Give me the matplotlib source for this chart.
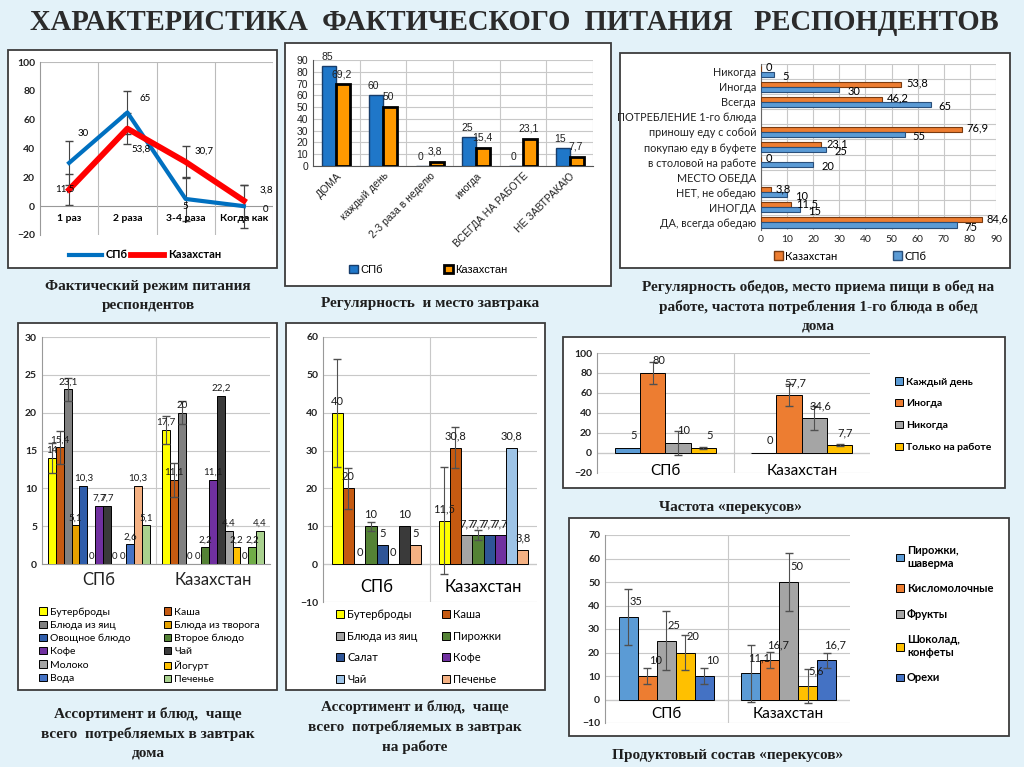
import numpy as np
import matplotlib.pyplot as plt
from matplotlib.patches import Rectangle, Patch
from matplotlib.lines import Line2D

W, H = 1024, 767
nan = np.nan

# --- chart 1: meal regime (line)
meal_cats = ['1 раз', '2 раза', '3-4 раза', 'Когда как']
meal_spb = [30, 65, 5, 0]
meal_kz = [11.5, 53.8, 30.7, 3.8]
meal_spb_err = [15, 15, 15, 15]
meal_kz_err = [11, 11, 11, 11]

# --- chart 2: breakfast
bf_cats = ['ДОМА', 'каждый день', '2-3 раза в неделю', 'иногда',
           'ВСЕГДА НА РАБОТЕ', 'НЕ ЗАВТРАКАЮ']
bf_spb = [85, 60, 0, 25, 0, 15]
bf_kz = [69.2, 50, 3.8, 15.4, 23.1, 7.7]

# --- chart 3: lunch (bottom to top)
lunch_cats = ['ДА, всегда обедаю', 'ИНОГДА', 'НЕТ, не обедаю', 'МЕСТО ОБЕДА',
              'в столовой на работе', 'покупаю еду в буфете', 'приношу еду с собой',
              'ПОТРЕБЛЕНИЕ 1-го блюда', 'Всегда', 'Иногда', 'Никогда']
lunch_spb = [75, 15, 10, nan, 20, 25, 55, nan, 65, 30, 5]
lunch_kz = [84.6, 11.5, 3.8, nan, 0, 23.1, 76.9, nan, 46.2, 53.8, 0]

# --- chart 4: breakfast at home
groups = ['СПб', 'Казахстан']
home_series = ['Бутерброды', 'Каша', 'Блюда из яиц', 'Блюда из творога',
               'Овощное блюдо', 'Второе блюдо', 'Кофе', 'Чай', 'Молоко',
               'Йогурт', 'Вода', None, 'Печенье']
home_spb = [14, 15.4, 23.1, 5.1, 10.3, 0, 7.7, 7.7, 0, 0, 2.6, 10.3, 5.1]
home_kz = [17.7, 11.1, 20, 0, 0, 2.2, 11.1, 22.2, 4.4, 2.2, 0, 2.2, 4.4]
home_spb_err = [2, 2.2, 1.5, 0, 0, 0, 0, 0, 0, 0, 0, 0, 0]
home_kz_err = [1.8, 2.3, 1.5, 0, 0, 0, 0, 0, 0, 0, 0, 0, 0]

# --- chart 5: breakfast at work
work_series = ['Бутерброды', 'Каша', 'Блюда из яиц', 'Пирожки', 'Салат',
               'Кофе', 'Чай', 'Печенье']
work_spb = [40, 20, 0, 10, 5, 0, 10, 5]
work_kz = [11.5, 30.8, 7.7, 7.7, 7.7, 7.7, 30.8, 3.8]
work_spb_err = [14.3, 5.5, 0, 1.2, 0, 0, 0, 0]
work_kz_err = [14.2, 5.4, 0, 1.2, 0, 0, 0, 0]

# --- chart 6: snack frequency
freq_series = ['Каждый день', 'Иногда', 'Никогда', 'Только на работе']
freq_spb = [5, 80, 10, 5]
freq_kz = [0, 57.7, 34.6, 7.7]
freq_spb_err = [0, 11, 12, 1]
freq_kz_err = [0, 11, 12, 1]

# --- chart 7: snack content
snack_series = ['Пирожки,\nшаверма', 'Кисломолочные', 'Фрукты',
                'Шоколад,\nконфеты', 'Орехи']
snack_spb = [35, 10, 25, 20, 10]
snack_kz = [11.1, 16.7, 50, 5.6, 16.7]
snack_spb_err = [12, 3.5, 12.5, 7.3, 3.3]
snack_kz_err = [12, 3.4, 12.5, 7.2, 3.3]

SANS = 'Lato'
SERIF = 'Liberation Serif'
GRID = '#c8c8c8'

fig = plt.figure(figsize=(W / 100, H / 100), dpi=100)
fig.patch.set_facecolor('#e3f2f9')


def px_axes(x0, y0, x1, y1):
    return fig.add_axes([x0 / W, 1 - y1 / H, (x1 - x0) / W, (y1 - y0) / H])


def fig_pt(x, y):
    return (x / W, 1 - y / H)


# background layer: panel boxes and captions
bg = fig.add_axes([0, 0, 1, 1], zorder=-1)
bg.set_xlim(0, W)
bg.set_ylim(H, 0)
bg.axis('off')
boxes = [(8, 50, 277, 268), (285, 43, 611, 286), (620, 53, 1010, 268),
         (18, 323, 277, 690), (286, 323, 545, 690), (563, 337, 1005, 488),
         (569, 518, 1009, 736)]
for x0, y0, x1, y1 in boxes:
    bg.add_patch(Rectangle((x0, y0), x1 - x0, y1 - y0, facecolor='white',
                           edgecolor='#3c3c3c', lw=1.3))

bg.text(514, 22, 'ХАРАКТЕРИСТИКА  ФАКТИЧЕСКОГО  ПИТАНИЯ   РЕСПОНДЕНТОВ',
        ha='center', va='center', fontsize=20.6, weight='bold',
        family=SERIF, color='#2b2b2b')
captions = [
    (148, 296, 'Фактический режим питания\nреспондентов'),
    (430, 304, 'Регулярность  и место завтрака'),
    (818, 306, 'Регулярность обедов, место приема пищи в обед на\nработе, частота потребления 1-го блюда в обед\nдома'),
    (730, 507, 'Частота «перекусов»'),
    (148, 733, 'Ассортимент и блюд,  чаще\nвсего  потребляемых в завтрак\nдома'),
    (415, 727, 'Ассортимент и блюд,  чаще\nвсего  потребляемых в завтрак\nна работе'),
    (728, 755, 'Продуктовый состав «перекусов»'),
]
for x, y, s in captions:
    bg.text(x, y, s, ha='center', va='center', fontsize=11, weight='bold',
            family=SERIF, color='#1e1e1e', linespacing=1.55)


def clean(ax):
    for s in ax.spines.values():
        s.set_visible(False)
    ax.tick_params(length=0, labelsize=7.5, colors='#222')
    for t in ax.get_yticklabels():
        t.set_family(SANS)


# ---------------- chart 1
ax1 = px_axes(40, 62, 273, 235)
x = np.arange(len(meal_cats))
ax1.plot(x, meal_spb, color='#0070C0', lw=3, zorder=3)
ax1.plot(x, meal_kz, color='#FF0000', lw=4.2, zorder=3)
ax1.errorbar(x, meal_spb, yerr=meal_spb_err, fmt='none', ecolor='#444',
             elinewidth=0.8, capsize=3, zorder=2)
ax1.errorbar(x, meal_kz, yerr=meal_kz_err, fmt='none', ecolor='#444',
             elinewidth=0.8, capsize=3, zorder=2)
ax1.set_xlim(-0.5, 3.5)
ax1.set_ylim(-20, 100)
ax1.set_yticks(range(-20, 101, 20))
ax1.set_xticks([])
clean(ax1)
ax1.spines['left'].set_visible(True)
ax1.spines['left'].set_color('#999')
ax1.axhline(100, color='#bbb', lw=0.8)
ax1.axhline(0, color='#999', lw=0.8)
for b in np.arange(0.5, 4, 1):
    ax1.axvline(b, color='#bbb', lw=0.8)
for lbl in ax1.get_yticklabels():
    lbl.set_weight('bold')
for i, c in enumerate(meal_cats):
    ax1.text(i, -8.5, c, ha='center', va='center', fontsize=7.5,
             weight='bold', family=SANS)
spb_off = [(14, 29), (18, 14), (0, -8), (22, -3)]
kz_off = [(-4, 0), (14, -21), (18, 11), (23, 11)]
for i in range(len(meal_cats)):
    ax1.annotate(f'{meal_spb[i]:g}'.replace('.', ','), (i, meal_spb[i]),
                 xytext=spb_off[i], textcoords='offset pixels', ha='center',
                 va='center', fontsize=7, family=SANS)
    ax1.annotate(f'{meal_kz[i]:g}'.replace('.', ','), (i, meal_kz[i]),
                 xytext=kz_off[i], textcoords='offset pixels', ha='center',
                 va='center', fontsize=7, family=SANS)
fig.legend(handles=[Line2D([], [], color='#0070C0', lw=3),
                    Line2D([], [], color='#FF0000', lw=4.2)],
           labels=['СПб', 'Казахстан'], loc='center',
           bbox_to_anchor=fig_pt(145, 255), ncol=2, frameon=False,
           handlelength=3, columnspacing=0.3, handletextpad=0.3,
           prop={'family': SANS, 'weight': 'bold', 'size': 8})

# ---------------- chart 2
ax2 = px_axes(313, 60, 593, 166)
x = np.arange(len(bf_cats))
ax2.bar(x - 0.15, bf_spb, 0.3, color='#1f77c9', edgecolor='#173d6b', lw=1, zorder=3)
ax2.bar(x + 0.15, bf_kz, 0.3, color='#FF9900', edgecolor='black', lw=2, zorder=3)
ax2.set_xlim(-0.5, len(bf_cats) - 0.5)
ax2.set_ylim(0, 90)
ax2.set_yticks(range(0, 91, 10))
clean(ax2)
ax2.spines['left'].set_visible(True)
ax2.spines['left'].set_color('#555')
ax2.spines['bottom'].set_visible(True)
ax2.spines['bottom'].set_color('#555')
ax2.grid(axis='y', color=GRID, lw=0.8, zorder=0)
for b in np.arange(0.5, len(bf_cats), 1):
    ax2.axvline(b, color=GRID, lw=0.8, zorder=0)
ax2.set_xticks(x)
ax2.set_xticklabels(bf_cats, rotation=45, ha='right', rotation_mode='anchor',
                    fontsize=7.5, family='Liberation Sans')
for t in ax2.get_yticklabels():
    t.set_family('Liberation Sans')
for i in range(len(bf_cats)):
    ax2.annotate(f'{bf_spb[i]:g}', (i - 0.2, bf_spb[i]), xytext=(0, 4),
                 textcoords='offset pixels', ha='center', va='bottom',
                 fontsize=7.5, family='Liberation Sans', color='#222')
    ax2.annotate(f'{bf_kz[i]:g}'.replace('.', ','), (i + 0.12, bf_kz[i]),
                 xytext=(0, 5), textcoords='offset pixels', ha='center',
                 va='bottom', fontsize=7.5, family='Liberation Sans', color='#222')
fig.legend(handles=[Patch(facecolor='#1f77c9', edgecolor='#173d6b'),
                    Patch(facecolor='#FF9900', edgecolor='black', lw=2)],
           labels=['СПб', 'Казахстан'], loc='center',
           bbox_to_anchor=fig_pt(428, 270), ncol=2, frameon=False,
           handlelength=0.8, handleheight=0.8, columnspacing=5.5,
           handletextpad=0.2, prop={'family': 'Liberation Sans', 'size': 8})

# ---------------- chart 3
ax3 = px_axes(761, 64, 996, 230)
y = np.arange(len(lunch_cats))
ax3.barh(y + 0.17, lunch_kz, 0.34, color='#ED7D31', edgecolor='#7a3b10', lw=0.8, zorder=3)
ax3.barh(y - 0.17, lunch_spb, 0.34, color='#5B9BD5', edgecolor='#2a4f7a', lw=0.8, zorder=3)
ax3.set_ylim(-0.5, len(lunch_cats) - 0.5)
ax3.set_xlim(0, 90)
ax3.set_xticks(range(0, 91, 10))
ax3.set_yticks(y)
clean(ax3)
ax3.set_yticklabels(lunch_cats, fontsize=7.8, family=SANS)
for t in ax3.get_xticklabels():
    t.set_family(SANS)
ax3.spines['left'].set_visible(True)
ax3.spines['left'].set_color('#666')
ax3.grid(axis='x', color=GRID, lw=0.8, zorder=0)
for b in np.arange(-0.5, len(lunch_cats), 1):
    ax3.axhline(b, color=GRID, lw=0.8, zorder=0)
for i in range(len(lunch_cats)):
    if not np.isnan(lunch_kz[i]):
        ax3.annotate(f'{lunch_kz[i]:g}'.replace('.', ','), (lunch_kz[i], i + 0.17),
                     xytext=(5, 1), textcoords='offset pixels', ha='left',
                     va='center', fontsize=8, family=SANS)
    if not np.isnan(lunch_spb[i]):
        ax3.annotate(f'{lunch_spb[i]:g}', (lunch_spb[i], i - 0.17),
                     xytext=(8, -2), textcoords='offset pixels', ha='left',
                     va='center', fontsize=8, family=SANS)
fig.legend(handles=[Patch(facecolor='#ED7D31', edgecolor='#7a3b10'),
                    Patch(facecolor='#5B9BD5', edgecolor='#2a4f7a')],
           labels=['Казахстан', 'СПб'], loc='center',
           bbox_to_anchor=fig_pt(850, 256), ncol=2, frameon=False,
           handlelength=0.8, handleheight=0.8, columnspacing=5,
           handletextpad=0.2, prop={'family': SANS, 'size': 8})


def grouped(ax, series, spb, kz, spb_err, kz_err, colors_spb, colors_kz,
            width, edge='black', label_dy=3, fs=7, dx=0):
    n = len(series)
    offs = (np.arange(n) - (n - 1) / 2) * width
    handles = []
    for i in range(n):
        for g, (vals, errs, cols) in enumerate(((spb, spb_err, colors_spb),
                                                (kz, kz_err, colors_kz))):
            xx = g + offs[i]
            ax.bar(xx, vals[i], width, color=cols[i], edgecolor=edge, lw=0.7,
                   zorder=3)
            if errs[i] > 0:
                ax.errorbar(xx, vals[i], yerr=errs[i], fmt='none',
                            ecolor='#505050', elinewidth=0.8, capsize=3,
                            zorder=4)
            ax.annotate(f'{vals[i]:g}'.replace('.', ','), (xx, vals[i]),
                        xytext=(dx, label_dy), textcoords='offset pixels',
                        ha='center', va='bottom', fontsize=fs, family=SANS,
                        color='#1a1a1a', zorder=5)
        if series[i] is not None:
            handles.append((Patch(facecolor=colors_spb[i], edgecolor=edge,
                                  lw=0.7), series[i]))
    return handles


def reorder(handles, ncol=2):
    h = [a for a, _ in handles]
    l = [b for _, b in handles]
    idx = list(range(0, len(h), ncol)) + list(range(1, len(h), ncol))
    return [h[i] for i in idx], [l[i] for i in idx]


# ---------------- chart 4
ax4 = px_axes(42, 337, 270, 564)
home_col_spb = ['#FFFF00', '#C55A11', '#808080', '#E5A100', '#2F5DAA',
                '#548235', '#7030A0', '#3a3a3a', '#A5A5A5', '#FFC000',
                '#4472C4', '#F4B183', '#A9D18E']
home_col_kz = home_col_spb[:11] + ['#70AD47', '#A9D18E']
hh = grouped(ax4, home_series, home_spb, home_kz, home_spb_err, home_kz_err,
             home_col_spb, home_col_kz, 0.0685, fs=7)
ax4.set_xlim(-0.5, 1.5)
ax4.set_ylim(0, 30)
ax4.set_yticks(range(0, 31, 5))
ax4.set_xticks([0, 1])
clean(ax4)
ax4.set_xticklabels(groups, fontsize=12, family=SANS)
ax4.tick_params(axis='x', pad=6)
ax4.grid(axis='y', color=GRID, lw=0.8, zorder=0)
ax4.axvline(0.5, color=GRID, lw=0.8, zorder=0)
ax4.spines['left'].set_visible(True)
ax4.spines['left'].set_color('#999')
ax4.spines['bottom'].set_visible(True)
ax4.spines['bottom'].set_color('#999')
for t in ax4.get_yticklabels():
    t.set_weight('bold')
h, l = reorder(hh)
ax4.legend(h, l, ncol=2, loc='upper left', bbox_to_anchor=fig_pt(30, 598),
           bbox_transform=fig.transFigure, frameon=False, handlelength=0.7,
           handleheight=0.7, handletextpad=0.3, labelspacing=0.38,
           columnspacing=3.2, prop={'family': SANS, 'size': 7.5})

# ---------------- chart 5
ax5 = px_axes(323, 337, 537, 602)
work_col_spb = ['#FFFF00', '#C55A11', '#A5A5A5', '#548235', '#2F5597',
                '#7030A0', '#3a3a3a', '#F4B183']
work_col_kz = work_col_spb[:6] + ['#9DC3E6', '#F4B183']
hh = grouped(ax5, work_series, work_spb, work_kz, work_spb_err, work_kz_err,
             work_col_spb, work_col_kz, 0.105, label_dy=6, fs=8)
hh[6] = (Patch(facecolor='#9DC3E6', edgecolor='black', lw=0.7), hh[6][1])
ax5.set_xlim(-0.5, 1.5)
ax5.set_ylim(-10, 60)
ax5.set_yticks(range(-10, 61, 10))
ax5.set_xticks([])
clean(ax5)
ax5.grid(axis='y', color=GRID, lw=0.8, zorder=0)
ax5.axvline(0.5, color=GRID, lw=0.8, zorder=0)
ax5.axhline(0, color='#888', lw=0.8, zorder=1)
ax5.spines['left'].set_visible(True)
ax5.spines['left'].set_color('#999')
for t in ax5.get_yticklabels():
    t.set_weight('bold')
for g, name in enumerate(groups):
    ax5.text(g, -6, name, ha='center', va='center', fontsize=12, family=SANS)
h, l = reorder(hh)
ax5.legend(h, l, ncol=2, loc='upper left', bbox_to_anchor=fig_pt(326, 599),
           bbox_transform=fig.transFigure, frameon=False, handlelength=0.7,
           handleheight=0.7, handletextpad=0.3, labelspacing=0.95,
           columnspacing=2.2, prop={'family': SANS, 'size': 8})

# ---------------- chart 6
ax6 = px_axes(597, 353, 870, 473)
freq_col = ['#5B9BD5', '#ED7D31', '#A5A5A5', '#FFC000']
hh = grouped(ax6, freq_series, freq_spb, freq_kz, freq_spb_err, freq_kz_err,
             freq_col, freq_col, 0.185, label_dy=7, fs=8, dx=6)
ax6.set_xlim(-0.5, 1.5)
ax6.set_ylim(-20, 100)
ax6.set_yticks(range(-20, 101, 20))
ax6.set_xticks([])
clean(ax6)
ax6.grid(axis='y', color=GRID, lw=0.8, zorder=0)
ax6.axvline(0.5, color=GRID, lw=0.8, zorder=0)
ax6.axhline(0, color='#888', lw=0.8, zorder=1)
ax6.spines['left'].set_visible(True)
ax6.spines['left'].set_color('#999')
for t in ax6.get_yticklabels():
    t.set_weight('bold')
for g, name in enumerate(groups):
    ax6.text(g, -18, name, ha='center', va='center', fontsize=11, family=SANS)
ax6.legend([a for a, _ in hh], [b for _, b in hh], loc='upper left',
           bbox_to_anchor=fig_pt(886, 368), bbox_transform=fig.transFigure,
           frameon=False, handlelength=0.7, handleheight=0.7,
           handletextpad=0.3, labelspacing=1.2,
           prop={'family': SANS, 'size': 7.5, 'weight': 'bold'})

# ---------------- chart 7
ax7 = px_axes(605, 535, 850, 723)
snack_col = ['#5B9BD5', '#ED7D31', '#A5A5A5', '#FFC000', '#4472C4']
hh = grouped(ax7, snack_series, snack_spb, snack_kz, snack_spb_err,
             snack_kz_err, snack_col, snack_col, 0.155, label_dy=10, fs=8, dx=8)
ax7.set_xlim(-0.5, 1.5)
ax7.set_ylim(-10, 70)
ax7.set_yticks(range(-10, 71, 10))
ax7.set_xticks([])
clean(ax7)
ax7.grid(axis='y', color=GRID, lw=0.8, zorder=0)
ax7.axvline(0.5, color=GRID, lw=0.8, zorder=0)
ax7.axhline(0, color='#888', lw=0.8, zorder=1)
ax7.spines['left'].set_visible(True)
ax7.spines['left'].set_color('#999')
for t in ax7.get_yticklabels():
    t.set_weight('bold')
for g, name in enumerate(groups):
    ax7.text(g, -6, name, ha='center', va='center', fontsize=11, family=SANS)
ax7.legend([a for a, _ in hh], [b for _, b in hh], loc='upper left',
           bbox_to_anchor=fig_pt(886, 535), bbox_transform=fig.transFigure,
           frameon=False, handlelength=0.7, handleheight=0.7,
           handletextpad=0.3, labelspacing=1.3,
           prop={'family': SANS, 'size': 8, 'weight': 'bold'})

fig.savefig('out.png', dpi=100, facecolor=fig.get_facecolor())
